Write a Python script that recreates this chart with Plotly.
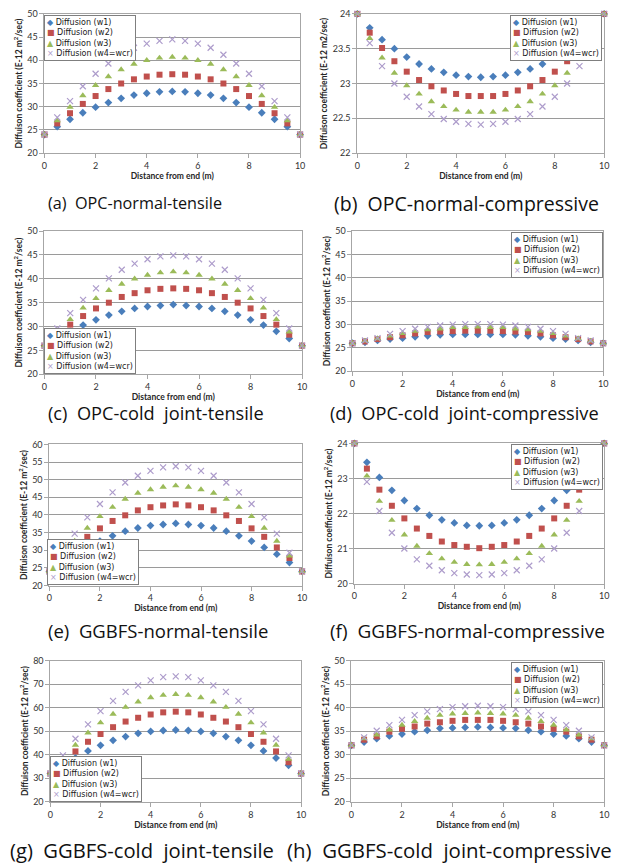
import plotly.graph_objects as go

W, H = 621, 868

distance = [0, 0.5, 1, 1.5, 2, 2.5, 3, 3.5, 4, 4.5, 5, 5.5, 6, 6.5, 7, 7.5, 8, 8.5, 9, 9.5, 10]
series_names = ["Diffusion (w1)", "Diffusion (w2)", "Diffusion (w3)", "Diffusion (w4=wcr)"]

# (a) OPC-normal-tensile
a_w1 = [24.0, 25.7, 27.3, 28.7, 29.9, 30.9, 31.8, 32.5, 32.9, 33.2, 33.3, 33.2, 32.9, 32.5, 31.8, 30.9, 29.9, 28.7, 27.3, 25.7, 24.0]
a_w2 = [24.0, 26.4, 28.6, 30.6, 32.3, 33.8, 35.0, 35.9, 36.5, 36.9, 37.0, 36.9, 36.5, 35.9, 35.0, 33.8, 32.3, 30.6, 28.6, 26.4, 24.0]
a_w3 = [24.0, 27.0, 29.9, 32.4, 34.6, 36.5, 38.0, 39.2, 40.0, 40.5, 40.7, 40.5, 40.0, 39.2, 38.0, 36.5, 34.6, 32.4, 29.9, 27.0, 24.0]
a_w4 = [24.0, 27.7, 31.2, 34.4, 37.1, 39.3, 41.2, 42.7, 43.6, 44.2, 44.5, 44.2, 43.6, 42.7, 41.2, 39.3, 37.1, 34.4, 31.2, 27.7, 24.0]

# (b) OPC-normal-compressive
b_w1 = [24.0, 23.80, 23.63, 23.50, 23.38, 23.28, 23.21, 23.16, 23.12, 23.10, 23.09, 23.10, 23.12, 23.16, 23.21, 23.28, 23.38, 23.50, 23.63, 23.80, 24.0]
b_w2 = [24.0, 23.73, 23.51, 23.32, 23.17, 23.05, 22.96, 22.90, 22.85, 22.82, 22.82, 22.82, 22.85, 22.90, 22.96, 23.05, 23.17, 23.32, 23.51, 23.73, 24.0]
b_w3 = [24.0, 23.65, 23.37, 23.15, 22.97, 22.85, 22.74, 22.67, 22.62, 22.59, 22.59, 22.59, 22.62, 22.67, 22.74, 22.85, 22.97, 23.15, 23.37, 23.65, 24.0]
b_w4 = [24.0, 23.58, 23.25, 23.00, 22.81, 22.67, 22.56, 22.49, 22.45, 22.42, 22.41, 22.42, 22.45, 22.49, 22.56, 22.67, 22.81, 23.00, 23.25, 23.58, 24.0]

# (c) OPC-cold joint-tensile
c_w1 = [26.0, 27.5, 29.0, 30.3, 31.4, 32.4, 33.2, 33.8, 34.2, 34.4, 34.6, 34.4, 34.2, 33.8, 33.2, 32.4, 31.4, 30.3, 29.0, 27.5, 26.0]
c_w2 = [26.0, 28.3, 30.4, 32.2, 33.8, 35.0, 36.2, 37.0, 37.6, 37.9, 38.0, 37.9, 37.6, 37.0, 36.2, 35.0, 33.8, 32.2, 30.4, 28.3, 26.0]
c_w3 = [26.0, 28.9, 31.5, 33.9, 35.9, 37.6, 38.9, 40.0, 40.8, 41.3, 41.5, 41.3, 40.8, 40.0, 38.9, 37.6, 35.9, 33.9, 31.5, 28.9, 26.0]
c_w4 = [26.0, 29.6, 32.8, 35.6, 38.0, 40.1, 41.9, 43.2, 44.1, 44.7, 44.9, 44.7, 44.1, 43.2, 41.9, 40.1, 38.0, 35.6, 32.8, 29.6, 26.0]

# (d) OPC-cold joint-compressive
d_w1 = [26.0, 26.2, 26.6, 26.9, 27.1, 27.4, 27.6, 27.8, 27.9, 27.9, 27.9, 27.9, 27.9, 27.8, 27.6, 27.4, 27.1, 26.9, 26.6, 26.2, 26.0]
d_w2 = [26.0, 26.4, 26.9, 27.3, 27.7, 28.1, 28.4, 28.5, 28.6, 28.7, 28.7, 28.7, 28.6, 28.5, 28.4, 28.1, 27.7, 27.3, 26.9, 26.4, 26.0]
d_w3 = [26.0, 26.5, 27.0, 27.6, 28.1, 28.6, 28.9, 29.1, 29.4, 29.4, 29.5, 29.4, 29.4, 29.1, 28.9, 28.6, 28.1, 27.6, 27.0, 26.5, 26.0]
d_w4 = [26.0, 26.6, 27.1, 28.0, 28.6, 29.1, 29.5, 29.8, 30.0, 30.1, 30.1, 30.1, 30.0, 29.8, 29.5, 29.1, 28.6, 28.0, 27.1, 26.6, 26.0]

# (e) GGBFS-normal-tensile
e_w1 = [24.0, 26.5, 28.9, 30.8, 32.6, 34.1, 35.4, 36.3, 37.0, 37.3, 37.6, 37.3, 37.0, 36.3, 35.4, 34.1, 32.6, 30.8, 28.9, 26.5, 24.0]
e_w2 = [24.0, 27.8, 30.8, 33.8, 36.2, 38.3, 39.9, 41.3, 42.2, 42.7, 43.0, 42.7, 42.2, 41.3, 39.9, 38.3, 36.2, 33.8, 30.8, 27.8, 24.0]
e_w3 = [24.0, 28.4, 32.6, 36.3, 39.6, 42.2, 44.5, 46.2, 47.2, 47.9, 48.3, 47.9, 47.2, 46.2, 44.5, 42.2, 39.6, 36.3, 32.6, 28.4, 24.0]
e_w4 = [24.0, 29.3, 34.7, 39.3, 43.1, 46.4, 49.2, 51.1, 52.5, 53.5, 53.8, 53.5, 52.5, 51.1, 49.2, 46.4, 43.1, 39.3, 34.7, 29.3, 24.0]

# (f) GGBFS-normal-compressive
f_w1 = [24.0, 23.46, 23.03, 22.66, 22.37, 22.14, 21.95, 21.82, 21.73, 21.66, 21.65, 21.66, 21.73, 21.82, 21.95, 22.14, 22.37, 22.66, 23.03, 23.46, 24.0]
f_w2 = [24.0, 23.28, 22.68, 22.22, 21.86, 21.57, 21.36, 21.20, 21.10, 21.05, 21.01, 21.05, 21.10, 21.20, 21.36, 21.57, 21.86, 22.22, 22.68, 23.28, 24.0]
f_w3 = [24.0, 23.07, 22.35, 21.81, 21.39, 21.07, 20.86, 20.71, 20.61, 20.55, 20.54, 20.55, 20.61, 20.71, 20.86, 21.07, 21.39, 21.81, 22.35, 23.07, 24.0]
f_w4 = [24.0, 22.90, 22.07, 21.45, 21.00, 20.69, 20.51, 20.38, 20.30, 20.26, 20.24, 20.26, 20.30, 20.38, 20.51, 20.69, 21.00, 21.45, 22.07, 22.90, 24.0]

# (g) GGBFS-cold joint-tensile
g_w1 = [32.0, 35.5, 38.6, 41.6, 44.0, 46.1, 47.7, 49.1, 49.9, 50.3, 50.5, 50.3, 49.9, 49.1, 47.7, 46.1, 44.0, 41.6, 38.6, 35.5, 32.0]
g_w2 = [32.0, 36.8, 41.4, 45.5, 48.8, 51.7, 54.1, 55.7, 57.1, 58.0, 58.3, 58.0, 57.1, 55.7, 54.1, 51.7, 48.8, 45.5, 41.4, 36.8, 32.0]
g_w3 = [32.0, 38.1, 44.1, 49.3, 53.6, 57.3, 60.2, 62.5, 64.3, 65.3, 65.7, 65.3, 64.3, 62.5, 60.2, 57.3, 53.6, 49.3, 44.1, 38.1, 32.0]
g_w4 = [32.0, 39.7, 46.8, 52.9, 58.5, 62.9, 66.7, 69.5, 71.6, 73.0, 73.3, 73.0, 71.6, 69.5, 66.7, 62.9, 58.5, 52.9, 46.8, 39.7, 32.0]

# (h) GGBFS-cold joint-compressive
h_w1 = [32.0, 32.7, 33.4, 34.0, 34.4, 34.9, 35.2, 35.6, 35.7, 35.8, 35.9, 35.8, 35.7, 35.6, 35.2, 34.9, 34.4, 34.0, 33.4, 32.7, 32.0]
h_w2 = [32.0, 33.2, 33.9, 34.9, 35.5, 36.0, 36.6, 36.9, 37.2, 37.4, 37.4, 37.4, 37.2, 36.9, 36.6, 36.0, 35.5, 34.9, 33.9, 33.2, 32.0]
h_w3 = [32.0, 33.4, 34.2, 35.3, 36.3, 37.1, 37.8, 38.4, 38.7, 38.8, 38.9, 38.8, 38.7, 38.4, 37.8, 37.1, 36.3, 35.3, 34.2, 33.4, 32.0]
h_w4 = [32.0, 33.7, 35.1, 36.3, 37.4, 38.4, 39.2, 39.7, 40.1, 40.3, 40.4, 40.3, 40.1, 39.7, 39.2, 38.4, 37.4, 36.3, 35.1, 33.7, 32.0]

captions = ["(a)  OPC-normal-tensile", "(b)  OPC-normal-compressive",
            "(c)  OPC-cold  joint-tensile", "(d)  OPC-cold  joint-compressive",
            "(e)  GGBFS-normal-tensile", "(f)  GGBFS-normal-compressive",
            "(g)  GGBFS-cold  joint-tensile", "(h)  GGBFS-cold  joint-compressive"]
y_ranges = [[20, 50], [22, 24], [20, 50], [20, 50], [20, 60], [20, 24], [20, 80], [20, 50]]
y_dticks = [5, 0.5, 5, 5, 5, 1, 10, 5]
x_title = "Distance from end (m)"
y_title_sup = "Diffuison coefficient (E-12 m<sup>2</sup>/sec)"
y_title_plain = "Diffuison coefficient (E-12 m2/sec)"

panel_data = [
    [a_w1, a_w2, a_w3, a_w4], [b_w1, b_w2, b_w3, b_w4],
    [c_w1, c_w2, c_w3, c_w4], [d_w1, d_w2, d_w3, d_w4],
    [e_w1, e_w2, e_w3, e_w4], [f_w1, f_w2, f_w3, f_w4],
    [g_w1, g_w2, g_w3, g_w4], [h_w1, h_w2, h_w3, h_w4],
]

# plot-area boxes in pixels (x0, x1, ytop, ybottom)
boxes = [
    (42, 301, 8, 149), (359, 609, 8, 149),
    (42, 303, 228, 373), (354, 608, 228, 370),
    (47, 303, 444, 587), (356, 609, 443, 585),
    (48, 302, 663, 806), (353, 609, 663, 806),
]
# legend anchor: (x, y, xanchor, yanchor) in pixels
legend_pos = [
    (42, 9, "left", "top"), (607, 9, "right", "top"),
    (42, 373, "left", "bottom"), (608, 229, "right", "top"),
    (45, 586, "left", "bottom"), (608, 444, "right", "top"),
    (48, 806, "left", "bottom"), (608, 664, "right", "top"),
]
caption_pos = [(44, 200), (333, 200), (44, 412), (329, 412),
               (44, 633), (329, 633), (5, 855), (286, 855)]
caption_sizes = [16.2, 19.5, 18.2, 18.2, 18.5, 19, 20.2, 20.4]

colors = ["#4a7ebb", "#c0504d", "#9bbb59", "#ad9ccb"]
symbols = ["diamond", "square", "triangle-up", "x-thin"]
sizes = [6, 6, 6.5, 6]
glyphs = ["\u25c6", "\u25a0", "\u25b2", "\u00d7"]

fig = go.Figure()
annotations = []
layout = dict(width=W, height=H, margin=dict(l=0, r=0, t=0, b=0),
              paper_bgcolor="white", plot_bgcolor="white", showlegend=False)

tick_font = dict(family="Lato", size=9, color="#333333")
title_font = dict(family="Lato", size=8.5, color="#262626")

for i in range(8):
    n = "" if i == 0 else str(i + 1)
    x0, x1, yt, yb = boxes[i]
    for k in range(4):
        marker = dict(symbol=symbols[k], size=sizes[k], color=colors[k])
        if symbols[k] == "x-thin":
            marker["line"] = dict(color=colors[k], width=1.2)
        fig.add_trace(go.Scatter(
            x=distance, y=panel_data[i][k], mode="markers", name=series_names[k],
            marker=marker, cliponaxis=False, xaxis="x" + n, yaxis="y" + n,
            hovertemplate=series_names[k] + ": %{y}<extra></extra>"))
    layout["xaxis" + n] = dict(
        domain=[x0 / W, x1 / W], anchor="y" + n, range=[0, 10], dtick=2, tick0=0,
        showgrid=False, zeroline=False, showline=True, linecolor="#a6a6a6", linewidth=1,
        mirror=True, ticks="outside", ticklen=4, tickcolor="#a6a6a6",
        tickfont=tick_font,
        title=dict(text="<b>" + x_title + "</b>", font=title_font, standoff=2))
    layout["yaxis" + n] = dict(
        domain=[1 - yb / H, 1 - yt / H], anchor="x" + n, range=y_ranges[i],
        dtick=y_dticks[i], tick0=y_ranges[i][0],
        showgrid=True, gridcolor="#9a9a9a", gridwidth=1, zeroline=False,
        showline=True, linecolor="#a6a6a6", linewidth=1, mirror=True,
        ticks="outside", ticklen=4, tickcolor="#a6a6a6", tickfont=tick_font,
        title=dict(text="<b>" + (y_title_plain if i == 1 else y_title_sup) + "</b>",
                   font=title_font, standoff=3))
    # legend box
    lx, ly, xa, ya = legend_pos[i]
    lines = ["<span style='color:%s'>%s</span> %s" % (colors[k], glyphs[k], series_names[k])
             for k in range(4)]
    annotations.append(dict(
        xref="paper", yref="paper", x=lx / W, y=1 - ly / H, xanchor=xa, yanchor=ya,
        text="<br>".join(lines), showarrow=False, align="left",
        font=dict(family="DejaVu Sans", size=8, color="#1a1a1a"),
        bgcolor="white", bordercolor="#7f7f7f", borderwidth=1, borderpad=2))
    cx, cy = caption_pos[i]
    annotations.append(dict(
        xref="paper", yref="paper", x=cx / W, y=1 - cy / H, xanchor="left", yanchor="middle",
        text=captions[i], showarrow=False,
        font=dict(family="Open Sans", size=caption_sizes[i], color="#111111")))

layout["annotations"] = annotations
fig.update_layout(**layout)
fig.write_html("out.html")
